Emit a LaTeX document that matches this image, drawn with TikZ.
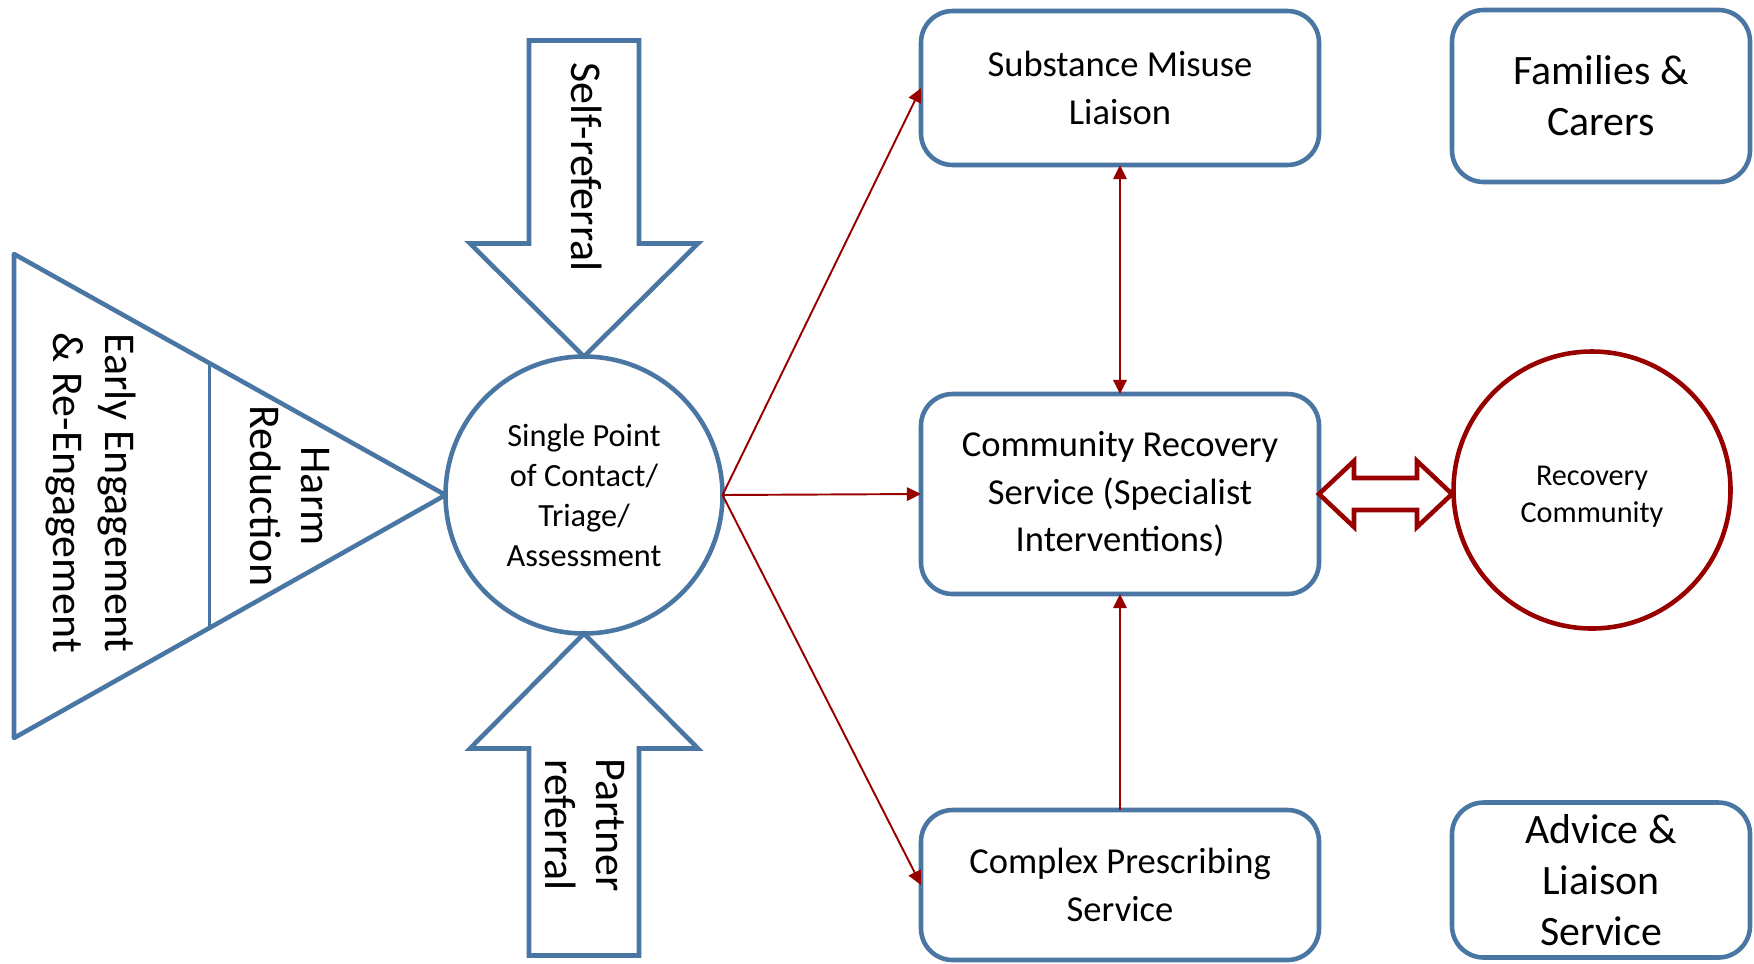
\documentclass[tikz,border=0pt]{standalone}
\usepackage{fontspec}
\setmainfont{Carlito}
\usetikzlibrary{calc,arrows.meta}
\definecolor{boxblue}{HTML}{4A76A3}
\definecolor{linkred}{HTML}{980000}

\begin{document}
\begin{tikzpicture}[x=0.1mm,y=-0.1mm,
    svc/.style={draw=boxblue,line width=1.3pt,rounded corners=9pt,fill=white,align=center,inner sep=0pt,outer sep=0pt,minimum width=39.8mm,font={\fontsize{10.4}{13.6}\selectfont}},
    side/.style={svc,minimum width=29.8mm,font={\fontsize{11.9}{14.5}\selectfont}},
    ring/.style={circle,line width=1.3pt,minimum size=27.7mm,inner sep=0pt,outer sep=0pt,align=center,fill=white},
    link/.style={draw=linkred,line width=0.55pt,-{Triangle[length=4pt,width=3.8pt]}},
    blockarrow/.style={draw=boxblue,line width=1.3pt,fill=white},
    bigarrow/.style={draw=linkred,line width=1.3pt,fill=white},
    vtext/.style={rotate=-90,align=center,font={\fontsize{12.5}{14.7}\selectfont}}]
\useasboundingbox (0,0) rectangle (1754,963);

% entry points
\node[ring,draw=boxblue,font={\fontsize{9.2}{11.4}\selectfont}] (hub) at (584,495) {Single Point\\of Contact/\\Triage/\\Assessment};
\coordinate (tritop) at (14,254);
\coordinate (tribot) at (14,738);
\draw[blockarrow,line join=round] (tritop) -- (hub.west) -- (tribot) -- cycle;
\draw[boxblue,line width=0.6pt] ($(tritop)!0.453!(hub.west)$) -- ($(tribot)!0.453!(hub.west)$);
\draw[blockarrow] (hub.north) -- ++(-114,-113) -- ++(59,0) -- ++(0,-203) -- ++(110,0) -- ++(0,203) -- ++(59,0) -- cycle;
\draw[blockarrow] (hub.south) -- ++(-114,115) -- ++(59,0) -- ++(0,207) -- ++(110,0) -- ++(0,-207) -- ++(59,0) -- cycle;
\node[vtext] (early) at (91,493) {Early Engagement\\\& Re-Engagement};
\node[vtext] (harm) at (290,496) {Harm\\Reduction};
\node[vtext] (selfref) at (587,167) {Self-referral};
\node[vtext] (partner) at (585,825) {Partner\\referral};

% services
\node[svc,minimum height=15.4mm] (sml) at (1120,88) {Substance Misuse\\Liaison};
\node[svc,minimum height=20mm] (crs) at (1120,494) {Community Recovery\\Service (Specialist\\Interventions)};
\node[svc,minimum height=15mm] (cps) at (1120,885) {Complex Prescribing\\Service};
\node[side,minimum height=17.2mm] (fam) at (1601,96) {Families \&\\Carers};
\node[side,minimum height=15.5mm] (adv) at (1601,880) {Advice \&\\Liaison\\Service};
\node[ring,draw=linkred,font={\fontsize{8.6}{10.5}\selectfont}] (recov) at (1592,490) {\\[-1.2pt]Recovery\\Community};

\draw[link] (hub.east) -- (sml.west);
\draw[link] (hub.east) -- (crs.west);
\draw[link] (hub.east) -- (cps.west);
\draw[link,{Triangle[length=4pt,width=3.8pt]}-{Triangle[length=4pt,width=3.8pt]}] (sml.south) -- (crs.north);
\draw[link] (cps.north) -- (crs.south);
\draw[bigarrow] (crs.east) -- ++(35,-33) -- ++(0,17) -- ++(63,0) -- ++(0,-17) -- ++(35,33) -- ++(-35,33) -- ++(0,-17) -- ++(-63,0) -- ++(0,17) -- cycle;
\end{tikzpicture}
\end{document}
